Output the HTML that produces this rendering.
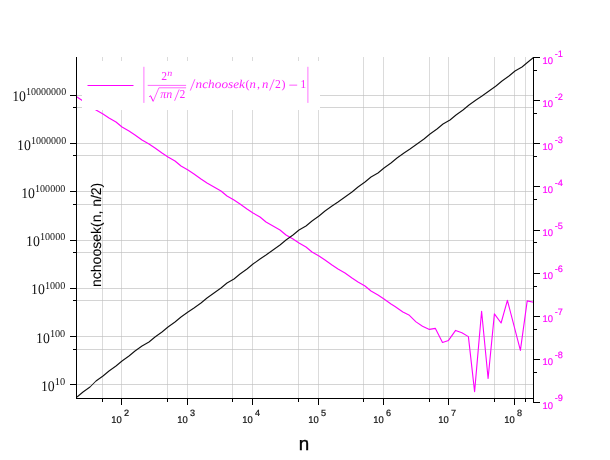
<!DOCTYPE html>
<html><head><meta charset="utf-8"><title>plot</title>
<style>html,body{margin:0;padding:0;background:#fff;}body{width:610px;height:460px;position:relative;overflow:hidden;font-family:"Liberation Sans",sans-serif;}</style>
</head><body>
<svg width="610" height="460" viewBox="0 0 610 460" style="position:absolute;left:0;top:0;will-change:transform;text-rendering:geometricPrecision">
<rect width="610" height="460" fill="#fff"/>
<g stroke-width="1" shape-rendering="crispEdges">
<path stroke="#dbdbdb" d="M121.5,57.0V398.5M187.5,57.0V398.5M252.5,57.0V398.5M318.5,57.0V398.5M383.5,57.0V398.5M448.5,57.0V398.5M514.5,57.0V398.5M102.5,57.0V398.5M167.5,57.0V398.5M232.5,57.0V398.5M298.5,57.0V398.5M363.5,57.0V398.5M429.5,57.0V398.5M494.5,57.0V398.5M525.5,57.0V398.5"/>
<path stroke="#d4d4d4" d="M76.5,384.5H533.5M76.5,336.5H533.5M76.5,288.5H533.5M76.5,240.5H533.5M76.5,191.5H533.5M76.5,143.5H533.5M76.5,95.5H533.5M76.5,349.5H533.5M76.5,300.5H533.5M76.5,252.5H533.5M76.5,204.5H533.5M76.5,155.5H533.5M76.5,107.5H533.5"/>
<path stroke="#c8c8c8" d="M121.0,384.5h1M121.0,336.5h1M121.0,288.5h1M121.0,240.5h1M121.0,191.5h1M121.0,143.5h1M121.0,95.5h1M121.0,349.5h1M121.0,300.5h1M121.0,252.5h1M121.0,204.5h1M121.0,155.5h1M121.0,107.5h1M187.0,384.5h1M187.0,336.5h1M187.0,288.5h1M187.0,240.5h1M187.0,191.5h1M187.0,143.5h1M187.0,95.5h1M187.0,349.5h1M187.0,300.5h1M187.0,252.5h1M187.0,204.5h1M187.0,155.5h1M187.0,107.5h1M252.0,384.5h1M252.0,336.5h1M252.0,288.5h1M252.0,240.5h1M252.0,191.5h1M252.0,143.5h1M252.0,95.5h1M252.0,349.5h1M252.0,300.5h1M252.0,252.5h1M252.0,204.5h1M252.0,155.5h1M252.0,107.5h1M318.0,384.5h1M318.0,336.5h1M318.0,288.5h1M318.0,240.5h1M318.0,191.5h1M318.0,143.5h1M318.0,95.5h1M318.0,349.5h1M318.0,300.5h1M318.0,252.5h1M318.0,204.5h1M318.0,155.5h1M318.0,107.5h1M383.0,384.5h1M383.0,336.5h1M383.0,288.5h1M383.0,240.5h1M383.0,191.5h1M383.0,143.5h1M383.0,95.5h1M383.0,349.5h1M383.0,300.5h1M383.0,252.5h1M383.0,204.5h1M383.0,155.5h1M383.0,107.5h1M448.0,384.5h1M448.0,336.5h1M448.0,288.5h1M448.0,240.5h1M448.0,191.5h1M448.0,143.5h1M448.0,95.5h1M448.0,349.5h1M448.0,300.5h1M448.0,252.5h1M448.0,204.5h1M448.0,155.5h1M448.0,107.5h1M514.0,384.5h1M514.0,336.5h1M514.0,288.5h1M514.0,240.5h1M514.0,191.5h1M514.0,143.5h1M514.0,95.5h1M514.0,349.5h1M514.0,300.5h1M514.0,252.5h1M514.0,204.5h1M514.0,155.5h1M514.0,107.5h1M102.0,384.5h1M102.0,336.5h1M102.0,288.5h1M102.0,240.5h1M102.0,191.5h1M102.0,143.5h1M102.0,95.5h1M102.0,349.5h1M102.0,300.5h1M102.0,252.5h1M102.0,204.5h1M102.0,155.5h1M102.0,107.5h1M167.0,384.5h1M167.0,336.5h1M167.0,288.5h1M167.0,240.5h1M167.0,191.5h1M167.0,143.5h1M167.0,95.5h1M167.0,349.5h1M167.0,300.5h1M167.0,252.5h1M167.0,204.5h1M167.0,155.5h1M167.0,107.5h1M232.0,384.5h1M232.0,336.5h1M232.0,288.5h1M232.0,240.5h1M232.0,191.5h1M232.0,143.5h1M232.0,95.5h1M232.0,349.5h1M232.0,300.5h1M232.0,252.5h1M232.0,204.5h1M232.0,155.5h1M232.0,107.5h1M298.0,384.5h1M298.0,336.5h1M298.0,288.5h1M298.0,240.5h1M298.0,191.5h1M298.0,143.5h1M298.0,95.5h1M298.0,349.5h1M298.0,300.5h1M298.0,252.5h1M298.0,204.5h1M298.0,155.5h1M298.0,107.5h1M363.0,384.5h1M363.0,336.5h1M363.0,288.5h1M363.0,240.5h1M363.0,191.5h1M363.0,143.5h1M363.0,95.5h1M363.0,349.5h1M363.0,300.5h1M363.0,252.5h1M363.0,204.5h1M363.0,155.5h1M363.0,107.5h1M429.0,384.5h1M429.0,336.5h1M429.0,288.5h1M429.0,240.5h1M429.0,191.5h1M429.0,143.5h1M429.0,95.5h1M429.0,349.5h1M429.0,300.5h1M429.0,252.5h1M429.0,204.5h1M429.0,155.5h1M429.0,107.5h1M494.0,384.5h1M494.0,336.5h1M494.0,288.5h1M494.0,240.5h1M494.0,191.5h1M494.0,143.5h1M494.0,95.5h1M494.0,349.5h1M494.0,300.5h1M494.0,252.5h1M494.0,204.5h1M494.0,155.5h1M494.0,107.5h1M525.0,384.5h1M525.0,336.5h1M525.0,288.5h1M525.0,240.5h1M525.0,191.5h1M525.0,143.5h1M525.0,95.5h1M525.0,349.5h1M525.0,300.5h1M525.0,252.5h1M525.0,204.5h1M525.0,155.5h1M525.0,107.5h1"/>
</g>
<path d="M77.0,97.0 L83.0,101.0 L90.0,105.0 L96.0,110.0 L103.0,114.0 L109.0,118.0 L116.0,122.0 L122.0,127.0 L129.0,131.0 L135.0,135.0 L142.0,140.0 L149.0,144.0 L155.0,148.0 L162.0,153.0 L168.0,157.0 L175.0,161.0 L181.0,166.0 L188.0,170.0 L194.0,174.0 L201.0,179.0 L207.0,183.0 L214.0,187.0 L221.0,191.0 L227.0,196.0 L234.0,200.0 L240.0,204.0 L247.0,209.0 L253.0,213.0 L260.0,217.0 L266.0,222.0 L273.0,226.0 L280.0,230.0 L286.0,235.0 L293.0,239.0 L299.0,243.0 L306.0,247.0 L312.0,252.0 L319.0,256.0 L325.0,260.0 L332.0,265.0 L338.0,269.0 L345.0,273.0 L352.0,278.0 L358.0,282.0 L365.0,286.0 L371.0,291.0 L378.0,295.0 L384.0,299.0 L391.0,304.0 L395.0,306.5 L402.9,312.0 L409.4,315.3 L416.0,321.9 L422.5,326.2 L429.4,329.4 L435.4,328.4 L442.5,342.5 L448.5,340.4 L455.6,330.4 L461.9,332.8 L468.4,336.6 L474.6,391.6 L481.6,311.3 L488.1,378.5 L494.4,313.9 L501.1,323.0 L507.4,300.3 L520.4,350.4 L527.2,300.9 L533.5,302.2" fill="none" stroke="#ff00ff" stroke-width="1.1" stroke-linejoin="round"/>
<path d="M77.0,397.0 L83.0,392.0 L90.0,387.0 L96.0,381.0 L103.0,376.0 L109.0,371.0 L116.0,366.0 L122.0,361.0 L129.0,356.0 L135.0,351.0 L142.0,346.0 L149.0,342.0 L155.0,337.0 L162.0,332.0 L168.0,327.0 L175.0,322.0 L181.0,317.0 L188.0,312.0 L194.0,308.0 L201.0,303.0 L207.0,298.0 L214.0,293.0 L221.0,288.0 L227.0,283.0 L234.0,279.0 L240.0,274.0 L247.0,269.0 L253.0,264.0 L260.0,259.0 L266.0,255.0 L273.0,250.0 L280.0,245.0 L286.0,240.0 L293.0,235.0 L299.0,230.0 L306.0,226.0 L312.0,221.0 L319.0,216.0 L325.0,211.0 L332.0,206.0 L338.0,202.0 L345.0,197.0 L352.0,192.0 L358.0,187.0 L365.0,182.0 L371.0,177.0 L378.0,173.0 L384.0,168.0 L391.0,163.0 L397.0,158.0 L404.0,153.0 L410.0,149.0 L417.0,144.0 L424.0,139.0 L430.0,134.0 L437.0,129.0 L443.0,124.0 L450.0,120.0 L456.0,115.0 L463.0,110.0 L469.0,105.0 L476.0,100.0 L482.0,96.0 L489.0,91.0 L496.0,86.0 L502.0,81.0 L509.0,76.0 L515.0,71.0 L522.0,67.0 L528.0,62.0 L533.5,57.5" fill="none" stroke="#111" stroke-width="1.05" stroke-linejoin="round"/>
<rect x="82" y="61" width="238" height="49" fill="#fff"/>
<line x1="87.5" y1="85.5" x2="133.5" y2="85.5" stroke="#ff00ff" stroke-width="1"/>
<g stroke="#000" stroke-width="1" shape-rendering="crispEdges">
<line x1="76.5" y1="57.0" x2="76.5" y2="399.0"/>
<line x1="76.0" y1="398.5" x2="534.0" y2="398.5"/>
<line x1="533.5" y1="57.0" x2="533.5" y2="403.0"/>
<line x1="121.5" y1="398.5" x2="121.5" y2="405.0"/>
<line x1="187.5" y1="398.5" x2="187.5" y2="405.0"/>
<line x1="252.5" y1="398.5" x2="252.5" y2="405.0"/>
<line x1="318.5" y1="398.5" x2="318.5" y2="405.0"/>
<line x1="383.5" y1="398.5" x2="383.5" y2="405.0"/>
<line x1="448.5" y1="398.5" x2="448.5" y2="405.0"/>
<line x1="514.5" y1="398.5" x2="514.5" y2="405.0"/>
<line x1="102.5" y1="398.5" x2="102.5" y2="402.0"/>
<line x1="167.5" y1="398.5" x2="167.5" y2="402.0"/>
<line x1="232.5" y1="398.5" x2="232.5" y2="402.0"/>
<line x1="298.5" y1="398.5" x2="298.5" y2="402.0"/>
<line x1="363.5" y1="398.5" x2="363.5" y2="402.0"/>
<line x1="429.5" y1="398.5" x2="429.5" y2="402.0"/>
<line x1="494.5" y1="398.5" x2="494.5" y2="402.0"/>
<line x1="525.5" y1="398.5" x2="525.5" y2="402.0"/>
<line x1="70.0" y1="384.5" x2="76.5" y2="384.5"/>
<line x1="70.0" y1="336.5" x2="76.5" y2="336.5"/>
<line x1="70.0" y1="288.5" x2="76.5" y2="288.5"/>
<line x1="70.0" y1="240.5" x2="76.5" y2="240.5"/>
<line x1="70.0" y1="191.5" x2="76.5" y2="191.5"/>
<line x1="70.0" y1="143.5" x2="76.5" y2="143.5"/>
<line x1="70.0" y1="95.5" x2="76.5" y2="95.5"/>
<line x1="73.0" y1="349.5" x2="76.5" y2="349.5"/>
<line x1="73.0" y1="300.5" x2="76.5" y2="300.5"/>
<line x1="73.0" y1="252.5" x2="76.5" y2="252.5"/>
<line x1="73.0" y1="204.5" x2="76.5" y2="204.5"/>
<line x1="73.0" y1="155.5" x2="76.5" y2="155.5"/>
<line x1="73.0" y1="107.5" x2="76.5" y2="107.5"/>
<line x1="533.5" y1="57.5" x2="540.0" y2="57.5"/>
<line x1="533.5" y1="100.5" x2="540.0" y2="100.5"/>
<line x1="533.5" y1="143.5" x2="540.0" y2="143.5"/>
<line x1="533.5" y1="186.5" x2="540.0" y2="186.5"/>
<line x1="533.5" y1="230.5" x2="540.0" y2="230.5"/>
<line x1="533.5" y1="273.5" x2="540.0" y2="273.5"/>
<line x1="533.5" y1="316.5" x2="540.0" y2="316.5"/>
<line x1="533.5" y1="359.5" x2="540.0" y2="359.5"/>
<line x1="533.5" y1="402.5" x2="540.0" y2="402.5"/>
<line x1="533.5" y1="70.5" x2="537.0" y2="70.5"/>
<line x1="533.5" y1="113.5" x2="537.0" y2="113.5"/>
<line x1="533.5" y1="156.5" x2="537.0" y2="156.5"/>
<line x1="533.5" y1="199.5" x2="537.0" y2="199.5"/>
<line x1="533.5" y1="242.5" x2="537.0" y2="242.5"/>
<line x1="533.5" y1="286.5" x2="537.0" y2="286.5"/>
<line x1="533.5" y1="329.5" x2="537.0" y2="329.5"/>
<line x1="533.5" y1="372.5" x2="537.0" y2="372.5"/>
</g>
<g font-family="Liberation Sans, sans-serif" fill="#141414" stroke="#141414" stroke-width="0.22">
<text x="121.7" y="423" font-size="9.8" text-anchor="end" textLength="10.5" lengthAdjust="spacingAndGlyphs">10</text>
<text x="123.9" y="416" font-size="9.1">2</text>
<text x="187.7" y="423" font-size="9.8" text-anchor="end" textLength="10.5" lengthAdjust="spacingAndGlyphs">10</text>
<text x="189.9" y="416" font-size="9.1">3</text>
<text x="252.7" y="423" font-size="9.8" text-anchor="end" textLength="10.5" lengthAdjust="spacingAndGlyphs">10</text>
<text x="254.9" y="416" font-size="9.1">4</text>
<text x="318.7" y="423" font-size="9.8" text-anchor="end" textLength="10.5" lengthAdjust="spacingAndGlyphs">10</text>
<text x="320.9" y="416" font-size="9.1">5</text>
<text x="383.7" y="423" font-size="9.8" text-anchor="end" textLength="10.5" lengthAdjust="spacingAndGlyphs">10</text>
<text x="385.9" y="416" font-size="9.1">6</text>
<text x="448.7" y="423" font-size="9.8" text-anchor="end" textLength="10.5" lengthAdjust="spacingAndGlyphs">10</text>
<text x="450.9" y="416" font-size="9.1">7</text>
<text x="514.7" y="423" font-size="9.8" text-anchor="end" textLength="10.5" lengthAdjust="spacingAndGlyphs">10</text>
<text x="516.9" y="416" font-size="9.1">8</text>
<text x="304" y="449.6" font-size="18.8" text-anchor="middle" fill="#000" stroke="#000" stroke-width="0.4">n</text>
<text transform="translate(100.5,286.95) rotate(-90)" font-size="14" fill="#000" stroke="#000" stroke-width="0.08">nchoosek(n, <tspan dx="-0.05">n/2)</tspan></text>
</g>
<g font-family="Liberation Sans, sans-serif" fill="#ff00ff" stroke="#ff00ff" stroke-width="0.15">
<text x="542.5" y="63.95" font-size="9.8" textLength="10.5" lengthAdjust="spacingAndGlyphs">10</text>
<text x="554.8" y="56.85" font-size="9.2">-1</text>
<text x="542.5" y="107.02" font-size="9.8" textLength="10.5" lengthAdjust="spacingAndGlyphs">10</text>
<text x="554.8" y="99.92" font-size="9.2">-2</text>
<text x="542.5" y="150.09" font-size="9.8" textLength="10.5" lengthAdjust="spacingAndGlyphs">10</text>
<text x="554.8" y="142.99" font-size="9.2">-3</text>
<text x="542.5" y="193.16" font-size="9.8" textLength="10.5" lengthAdjust="spacingAndGlyphs">10</text>
<text x="554.8" y="186.06" font-size="9.2">-4</text>
<text x="542.5" y="236.23" font-size="9.8" textLength="10.5" lengthAdjust="spacingAndGlyphs">10</text>
<text x="554.8" y="229.13" font-size="9.2">-5</text>
<text x="542.5" y="279.30" font-size="9.8" textLength="10.5" lengthAdjust="spacingAndGlyphs">10</text>
<text x="554.8" y="272.20" font-size="9.2">-6</text>
<text x="542.5" y="322.37" font-size="9.8" textLength="10.5" lengthAdjust="spacingAndGlyphs">10</text>
<text x="554.8" y="315.27" font-size="9.2">-7</text>
<text x="542.5" y="365.44" font-size="9.8" textLength="10.5" lengthAdjust="spacingAndGlyphs">10</text>
<text x="554.8" y="358.34" font-size="9.2">-8</text>
<text x="542.5" y="408.51" font-size="9.8" textLength="10.5" lengthAdjust="spacingAndGlyphs">10</text>
<text x="554.8" y="401.41" font-size="9.2">-9</text>
</g>
<g font-family="Liberation Serif, serif" fill="#111">
<text x="54.75" y="390.60" font-size="14.6" text-anchor="end" textLength="13.8" lengthAdjust="spacingAndGlyphs">10</text>
<text x="65.25" y="385.00" font-size="10.5" text-anchor="end" textLength="10.40" lengthAdjust="spacingAndGlyphs">10</text>
<text x="49.80" y="342.60" font-size="14.6" text-anchor="end" textLength="13.8" lengthAdjust="spacingAndGlyphs">10</text>
<text x="65.25" y="337.00" font-size="10.5" text-anchor="end" textLength="15.35" lengthAdjust="spacingAndGlyphs">100</text>
<text x="44.85" y="293.70" font-size="14.6" text-anchor="end" textLength="13.8" lengthAdjust="spacingAndGlyphs">10</text>
<text x="65.25" y="289.00" font-size="10.5" text-anchor="end" textLength="20.30" lengthAdjust="spacingAndGlyphs">1000</text>
<text x="39.90" y="245.70" font-size="14.6" text-anchor="end" textLength="13.8" lengthAdjust="spacingAndGlyphs">10</text>
<text x="65.25" y="240.00" font-size="10.5" text-anchor="end" textLength="25.25" lengthAdjust="spacingAndGlyphs">10000</text>
<text x="34.95" y="197.60" font-size="14.6" text-anchor="end" textLength="13.8" lengthAdjust="spacingAndGlyphs">10</text>
<text x="65.25" y="192.00" font-size="10.5" text-anchor="end" textLength="30.20" lengthAdjust="spacingAndGlyphs">100000</text>
<text x="30.90" y="149.60" font-size="14.6" text-anchor="end" textLength="13.8" lengthAdjust="spacingAndGlyphs">10</text>
<text x="66.15" y="144.00" font-size="10.5" text-anchor="end" textLength="35.15" lengthAdjust="spacingAndGlyphs">1000000</text>
<text x="25.95" y="100.90" font-size="14.6" text-anchor="end" textLength="13.8" lengthAdjust="spacingAndGlyphs">10</text>
<text x="66.15" y="95.00" font-size="10.5" text-anchor="end" textLength="40.10" lengthAdjust="spacingAndGlyphs">10000000</text>
</g>
<g font-family="Liberation Serif, serif" fill="#ff00ff" fill-opacity="0.86" font-size="12">
<line x1="143.9" y1="66.8" x2="143.9" y2="102.9" stroke="#ff00ff" stroke-width="0.55"/>
<line x1="307.9" y1="66.8" x2="307.9" y2="102.9" stroke="#ff00ff" stroke-width="0.55"/>
<line x1="147.7" y1="85.4" x2="186.1" y2="85.4" stroke="#ff00ff" stroke-width="0.6"/>
<text x="161.3" y="80.2" textLength="5.8" lengthAdjust="spacingAndGlyphs">2</text>
<text x="167.2" y="76.3" font-style="italic" textLength="5.0" lengthAdjust="spacingAndGlyphs" font-size="9">n</text>
<path d="M149.3,96.6 L150.6,95.8 L153.1,101.2" fill="none" stroke="#ff00ff" stroke-width="1.0"/>
<path d="M153.1,101.6 L158.9,87.8 L186.1,87.8" fill="none" stroke="#ff00ff" stroke-width="0.6"/>
<text x="160.2" y="97.9" font-style="italic" textLength="6.0" lengthAdjust="spacingAndGlyphs">π</text>
<text x="166.3" y="97.9" font-style="italic" textLength="6.0" lengthAdjust="spacingAndGlyphs">n</text>
<line x1="174.6" y1="100.8" x2="179.2" y2="89.39999999999999" stroke="#ff00ff" stroke-width="0.65"/>
<text x="179.6" y="97.9" textLength="5.8" lengthAdjust="spacingAndGlyphs">2</text>
<line x1="190.3" y1="90.6" x2="194.9" y2="79.19999999999999" stroke="#ff00ff" stroke-width="0.65"/>
<text x="195.6" y="88.4" font-style="italic" textLength="49.4" lengthAdjust="spacingAndGlyphs">nchoosek</text>
<text x="245.6" y="88.4">(</text>
<text x="249.6" y="88.4" font-style="italic" textLength="6.4" lengthAdjust="spacingAndGlyphs">n</text>
<text x="257" y="88.4">,</text>
<text x="262" y="88.4" font-style="italic" textLength="6.4" lengthAdjust="spacingAndGlyphs">n</text>
<line x1="269.6" y1="90.6" x2="274.20000000000005" y2="79.19999999999999" stroke="#ff00ff" stroke-width="0.65"/>
<text x="275" y="88.4" textLength="5.8" lengthAdjust="spacingAndGlyphs">2</text>
<text x="281.4" y="88.4">)</text>
<line x1="289.3" y1="85.15" x2="297.2" y2="85.15" stroke="#ff00ff" stroke-width="0.65"/>
<text x="300.2" y="88.4">1</text>
</g>
</svg>
</body></html>
